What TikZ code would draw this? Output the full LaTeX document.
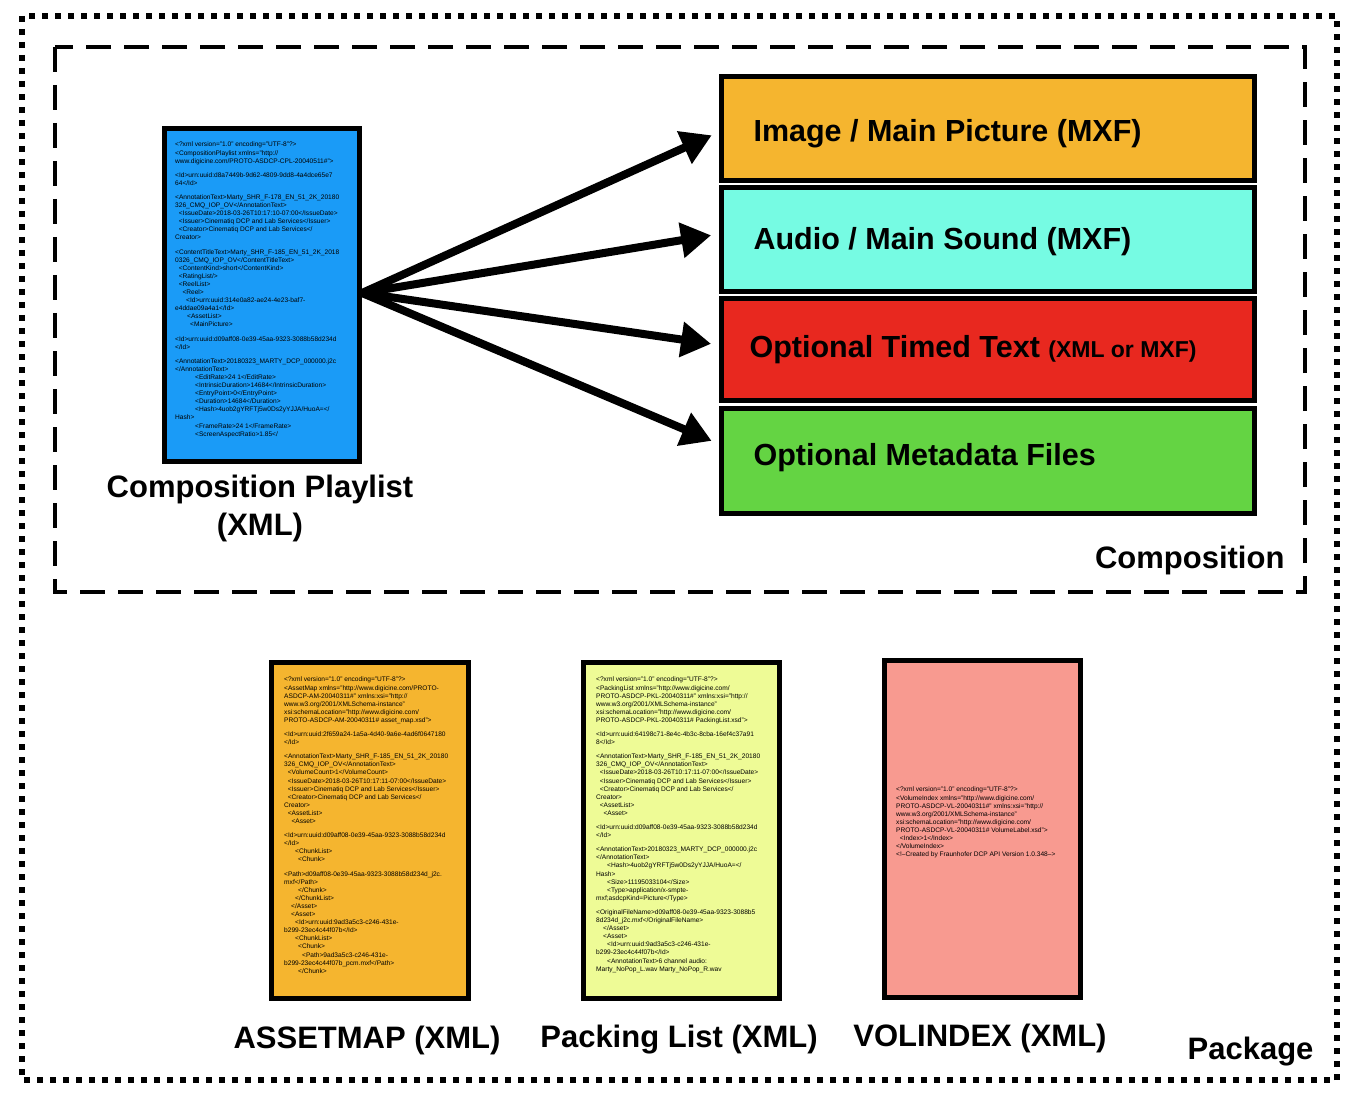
\documentclass[tikz,border=0pt]{standalone}
\usepackage{fontspec}
\setmainfont{Liberation Sans}
\usetikzlibrary{arrows.meta}
\begin{document}
\begin{tikzpicture}[x=1pt,y=-1pt,
  doc/.style={draw=black,line width=5pt,anchor=north west,inner sep=0pt},
  xml/.style={anchor=north west,align=left,font=\fontsize{6.6}{8.1}\selectfont,inner sep=0pt},
  box/.style={draw=black,line width=5pt,anchor=north west,minimum width=533pt,minimum height=104pt,inner sep=0pt},
  blab/.style={anchor=west,font=\fontsize{30.5}{34}\selectfont\bfseries},
  lab/.style={font=\fontsize{31}{38}\selectfont\bfseries,align=center},
  arr/.style={line width=8pt,shorten >=8pt,-{Triangle[length=30pt,width=34pt]}}]
\useasboundingbox (0,0) rectangle (1361,1102);
\draw[line width=6pt,dash pattern=on 6pt off 7pt] (22,16) rectangle (1337,1080);
\draw[line width=4pt,dash pattern=on 25pt off 13pt] (55,47) rectangle (1305,592);
% composition boxes
\node[box,fill={rgb,255:red,245;green,181;blue,47}] (img) at (719,74) {};
\node[blab] at (750,134) {Image / Main Picture (MXF)};
\node[box,fill={rgb,255:red,118;green,251;blue,227}] (aud) at (719,185) {};
\node[blab] at (750,242) {Audio / Main Sound (MXF)};
\node[box,fill={rgb,255:red,232;green,40;blue,31},minimum height=102pt] (tt) at (719,296) {};
\node[blab] at (746,350) {Optional Timed Text {\fontsize{23}{26}\selectfont (XML or MXF)}};
\node[box,fill={rgb,255:red,100;green,212;blue,67},minimum height=105pt] (md) at (719,406) {};
\node[blab] at (750,458) {Optional Metadata Files};
% CPL
\node[doc,fill={rgb,255:red,26;green,155;blue,247},minimum width=195pt,minimum height=333pt] (cpl) at (162,126) {};
\node[xml] at (175,142) {<?xml version="1.0" encoding="UTF-8"?>\\<CompositionPlaylist xmlns="http://\\www.digicine.com/PROTO-ASDCP-CPL-20040511\#">\\[6pt]
<Id>urn:uuid:d8a7449b-9d62-4809-9dd8-4a4dce65e7\\64</Id>\\[6pt]
<AnnotationText>Marty\_SHR\_F-178\_EN\_51\_2K\_20180\\326\_CMQ\_IOP\_OV</AnnotationText>\\
\ \ <IssueDate>2018-03-26T10:17:10-07:00</IssueDate>\\
\ \ <Issuer>Cinematiq DCP and Lab Services</Issuer>\\
\ \ <Creator>Cinematiq DCP and Lab Services</\\Creator>\\[6pt]
<ContentTitleText>Marty\_SHR\_F-185\_EN\_51\_2K\_2018\\0326\_CMQ\_IOP\_OV</ContentTitleText>\\
\ \ <ContentKind>short</ContentKind>\\
\ \ <RatingList/>\\
\ \ <ReelList>\\
\ \ \ \ <Reel>\\
\ \ \ \ \ \ <Id>urn:uuid:314e0a82-ae24-4e23-baf7-\\e4ddae09a4a1</Id>\\
\hspace{12pt}<AssetList>\\
\hspace{15pt}<MainPicture>\\[6pt]
<Id>urn:uuid:d09aff08-0e39-45aa-9323-3088b58d234d\\</Id>\\[6pt]
<AnnotationText>20180323\_MARTY\_DCP\_000000.j2c\\</AnnotationText>\\
\hspace{20pt}<EditRate>24 1</EditRate>\\
\hspace{20pt}<IntrinsicDuration>14684</IntrinsicDuration>\\
\hspace{20pt}<EntryPoint>0</EntryPoint>\\
\hspace{20pt}<Duration>14684</Duration>\\
\hspace{20pt}<Hash>4uob2gYRFTj5w0Ds2yYJJA/HuoA=</\\Hash>\\
\hspace{20pt}<FrameRate>24 1</FrameRate>\\
\hspace{20pt}<ScreenAspectRatio>1.85</};
\node[lab] (cpll) at (260,508) {Composition Playlist\\(XML)};
\draw[arr] (cpl.east) ++(0,-2) coordinate (s) -- (img.west|-0,132);
\draw[arr] (s) -- (aud.west|-0,234);
\draw[arr] (s) -- (tt.west|-0,345);
\draw[arr] (s) -- (md.west|-0,444);
\node[anchor=south east,font=\fontsize{31}{34}\selectfont\bfseries] at (1288,578) {Composition};
% package docs
\node[doc,fill={rgb,255:red,245;green,181;blue,47},minimum width=197pt,minimum height=336pt] (am) at (269,660) {};
\node[xml] at (284,677) {<?xml version="1.0" encoding="UTF-8"?>\\<AssetMap xmlns="http://www.digicine.com/PROTO-\\ASDCP-AM-20040311\#" xmlns:xsi="http://\\www.w3.org/2001/XMLSchema-instance"\\xsi:schemaLocation="http://www.digicine.com/\\PROTO-ASDCP-AM-20040311\# asset\_map.xsd">\\[6pt]
<Id>urn:uuid:2f659a24-1a5a-4d40-9a6e-4ad6f0647180\\</Id>\\[6pt]
<AnnotationText>Marty\_SHR\_F-185\_EN\_51\_2K\_20180\\326\_CMQ\_IOP\_OV</AnnotationText>\\
\ \ <VolumeCount>1</VolumeCount>\\
\ \ <IssueDate>2018-03-26T10:17:11-07:00</IssueDate>\\
\ \ <Issuer>Cinematiq DCP and Lab Services</Issuer>\\
\ \ <Creator>Cinematiq DCP and Lab Services</\\Creator>\\
\ \ <AssetList>\\
\ \ \ \ <Asset>\\[6pt]
<Id>urn:uuid:d09aff08-0e39-45aa-9323-3088b58d234d\\</Id>\\
\hspace{11pt}<ChunkList>\\
\hspace{14pt}<Chunk>\\[6pt]
<Path>d09aff08-0e39-45aa-9323-3088b58d234d\_j2c.\\mxf</Path>\\
\hspace{14pt}</Chunk>\\
\hspace{11pt}</ChunkList>\\
\hspace{7pt}</Asset>\\
\hspace{7pt}<Asset>\\
\hspace{11pt}<Id>urn:uuid:9ad3a5c3-c246-431e-\\b299-23ec4c44f07b</Id>\\
\hspace{11pt}<ChunkList>\\
\hspace{14pt}<Chunk>\\
\hspace{18pt}<Path>9ad3a5c3-c246-431e-\\b299-23ec4c44f07b\_pcm.mxf</Path>\\
\hspace{14pt}</Chunk>};
\node[doc,fill={rgb,255:red,238;green,251;blue,150},minimum width=196pt,minimum height=336pt] (pkl) at (581,660) {};
\node[xml] at (596,677) {<?xml version="1.0" encoding="UTF-8"?>\\<PackingList xmlns="http://www.digicine.com/\\PROTO-ASDCP-PKL-20040311\#" xmlns:xsi="http://\\www.w3.org/2001/XMLSchema-instance"\\xsi:schemaLocation="http://www.digicine.com/\\PROTO-ASDCP-PKL-20040311\# PackingList.xsd">\\[6pt]
<Id>urn:uuid:64198c71-8e4c-4b3c-8cba-16ef4c37a91\\8</Id>\\[6pt]
<AnnotationText>Marty\_SHR\_F-185\_EN\_51\_2K\_20180\\326\_CMQ\_IOP\_OV</AnnotationText>\\
\ \ <IssueDate>2018-03-26T10:17:11-07:00</IssueDate>\\
\ \ <Issuer>Cinematiq DCP and Lab Services</Issuer>\\
\ \ <Creator>Cinematiq DCP and Lab Services</\\Creator>\\
\ \ <AssetList>\\
\ \ \ \ <Asset>\\[6pt]
<Id>urn:uuid:d09aff08-0e39-45aa-9323-3088b58d234d\\</Id>\\[6pt]
<AnnotationText>20180323\_MARTY\_DCP\_000000.j2c\\</AnnotationText>\\
\hspace{11pt}<Hash>4uob2gYRFTj5w0Ds2yYJJA/HuoA=</\\Hash>\\
\hspace{11pt}<Size>11195033104</Size>\\
\hspace{11pt}<Type>application/x-smpte-\\mxf;asdcpKind=Picture</Type>\\[6pt]
<OriginalFileName>d09aff08-0e39-45aa-9323-3088b5\\8d234d\_j2c.mxf</OriginalFileName>\\
\hspace{7pt}</Asset>\\
\hspace{7pt}<Asset>\\
\hspace{11pt}<Id>urn:uuid:9ad3a5c3-c246-431e-\\b299-23ec4c44f07b</Id>\\
\hspace{11pt}<AnnotationText>6 channel audio:\\Marty\_NoPop\_L.wav Marty\_NoPop\_R.wav};
\node[doc,fill={rgb,255:red,248;green,154;blue,144},minimum width=196pt,minimum height=337pt] (vol) at (882,658) {};
\node[xml] at (896,787) {<?xml version="1.0" encoding="UTF-8"?>\\<VolumeIndex xmlns="http://www.digicine.com/\\PROTO-ASDCP-VL-20040311\#" xmlns:xsi="http://\\www.w3.org/2001/XMLSchema-instance"\\xsi:schemaLocation="http://www.digicine.com/\\PROTO-ASDCP-VL-20040311\# VolumeLabel.xsd">\\
\ \ <Index>1</Index>\\</VolumeIndex>\\<!--Created by Fraunhofer DCP API Version 1.0.348-->};
\node[lab] (aml) at (367,1040) {ASSETMAP (XML)};
\node[lab] (pkll) at (679,1040) {Packing List (XML)};
\node[lab] (voll) at (980,1038) {VOLINDEX (XML)};
\node[anchor=south east,font=\fontsize{31}{34}\selectfont\bfseries] at (1317,1070) {Package};
\end{tikzpicture}
\end{document}
